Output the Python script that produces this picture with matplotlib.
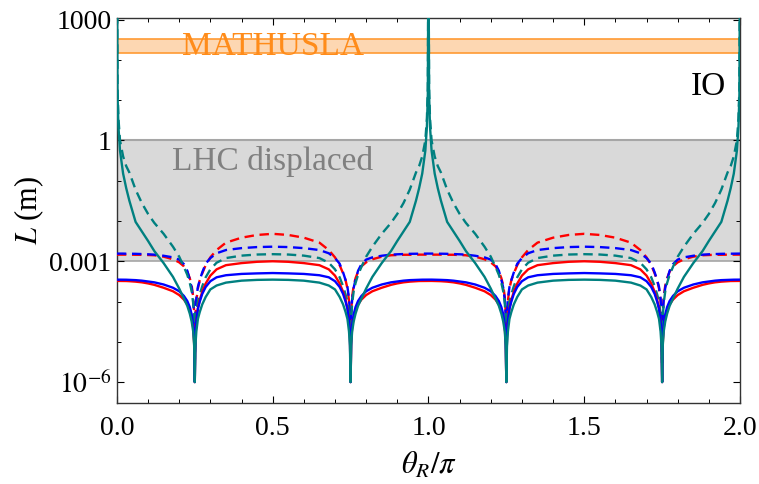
import matplotlib
matplotlib.use("Agg")
import matplotlib.pyplot as plt
import numpy as np
from matplotlib.ticker import MultipleLocator, FixedLocator, NullFormatter

plt.rcParams['font.family'] = ['Liberation Serif', 'DejaVu Serif']
plt.rcParams['mathtext.fontset'] = 'stix'

# theta_R/pi over half a period (curves are symmetric about 0.5 and repeat with period 1)
theta_half = [0, 0.002, 0.005, 0.01, 0.02, 0.03, 0.04, 0.06, 0.08, 0.1,
              0.12, 0.15, 0.18, 0.2, 0.215, 0.226, 0.234, 0.24, 0.245, 0.248,
              0.25, 0.252, 0.255, 0.26, 0.266, 0.274, 0.285, 0.3, 0.32, 0.35,
              0.4, 0.45, 0.5]

# decay length L (m)
red_solid = [3.25e-4, 3.25e-4, 3.25e-4, 3.25e-4, 3.24e-4, 3.23e-4, 3.2e-4, 3.12e-4, 3.0e-4, 2.82e-4,
             2.6e-4, 2.2e-4, 1.8e-4, 1.45e-4, 1.12e-4, 8.5e-5, 6.2e-5, 4.2e-5, 2.2e-5, 9e-6,
             1e-6, 1.4e-5, 3.3e-5, 6.8e-5, 1.1e-4, 1.75e-4, 2.8e-4, 4.4e-4, 6.3e-4, 8.0e-4,
             9.0e-4, 9.7e-4, 1.0e-3]
blue_solid = [3.5e-4, 3.5e-4, 3.5e-4, 3.5e-4, 3.49e-4, 3.48e-4, 3.45e-4, 3.4e-4, 3.3e-4, 3.15e-4,
              3.0e-4, 2.65e-4, 2.2e-4, 1.8e-4, 1.38e-4, 1.03e-4, 7.3e-5, 4.8e-5, 2.6e-5, 1.1e-5,
              1e-6, 1.4e-5, 3.3e-5, 6.6e-5, 1.0e-4, 1.55e-4, 2.3e-4, 3.2e-4, 4.0e-4, 4.5e-4,
              4.85e-4, 5.0e-4, 5.1e-4]
teal_solid = [1e5, 14, 2.2, 0.56, 0.15, 0.065, 0.032, 9.5e-3, 5.5e-3, 3.2e-3,
              1.8e-3, 9e-4, 4.1e-4, 2.1e-4, 1.18e-4, 7.8e-5, 5e-5, 3.2e-5, 1.8e-5, 8e-6,
              1e-6, 8e-6, 1.8e-5, 3.7e-5, 5.5e-5, 8.5e-5, 1.3e-4, 2.0e-4, 2.5e-4, 2.95e-4,
              3.3e-4, 3.45e-4, 3.5e-4]
red_dashed = [1.46e-3, 1.46e-3, 1.46e-3, 1.46e-3, 1.46e-3, 1.46e-3, 1.46e-3, 1.45e-3, 1.45e-3, 1.43e-3,
              1.41e-3, 1.3e-3, 1.12e-3, 9.4e-4, 7.5e-4, 5.5e-4, 3.8e-4, 2.5e-4, 1.3e-4, 5.5e-5,
              3e-6, 4.2e-5, 1.05e-4, 2.1e-4, 3.4e-4, 5.0e-4, 8e-4, 1.25e-3, 1.9e-3, 2.9e-3,
              3.85e-3, 4.5e-3, 4.8e-3]
blue_dashed = [1.55e-3, 1.55e-3, 1.55e-3, 1.55e-3, 1.55e-3, 1.54e-3, 1.54e-3, 1.53e-3, 1.51e-3, 1.49e-3,
               1.46e-3, 1.37e-3, 1.25e-3, 1.1e-3, 8.5e-4, 5.8e-4, 3.5e-4, 2.2e-4, 1.1e-4, 4.5e-5,
               3e-6, 5e-5, 1.2e-4, 2.3e-4, 3.4e-4, 5.3e-4, 8.7e-4, 1.2e-3, 1.58e-3, 1.9e-3,
               2.12e-3, 2.25e-3, 2.3e-3]
teal_dashed = [1e5, 20, 3.5, 1.0, 0.4, 0.23, 0.16, 0.06, 0.028, 0.015,
               9e-3, 4.8e-3, 2.3e-3, 1.3e-3, 7.3e-4, 4.6e-4, 2.9e-4, 1.8e-4, 9e-5, 4e-5,
               3e-6, 2e-5, 5e-5, 1e-4, 1.5e-4, 2.4e-4, 4e-4, 6.3e-4, 9.2e-4, 1.2e-3,
               1.38e-3, 1.47e-3, 1.5e-3]

mathusla_band = [146, 331]
lhc_band = [1e-3, 1.0]


def unfold(x, y):
    # mirror the half period about 0.5, then repeat once more up to 2
    x = np.asarray(x)
    y = np.asarray(y)
    xp = np.concatenate([x, 1 - x[::-1][1:]])
    yp = np.concatenate([y, y[::-1][1:]])
    return np.concatenate([xp, xp[1:] + 1]), np.concatenate([yp, yp[1:]])


fig = plt.figure(figsize=(7.59, 4.84), dpi=100)
ax = fig.add_axes([0.154, 0.167, 0.821, 0.796])

# bands
ax.axhspan(lhc_band[0], lhc_band[1], color='#d9d9d9', lw=0, zorder=0)
ax.axhline(lhc_band[1], color='#a6a6a6', lw=1.5, zorder=1)
ax.axhline(lhc_band[0], color='#a6a6a6', lw=1.2, zorder=1)
ax.axhspan(mathusla_band[0], mathusla_band[1], color='#fdd7b2', lw=0, zorder=0)
ax.axhline(mathusla_band[0], color='#ff9a33', lw=1.2, zorder=1)
ax.axhline(mathusla_band[1], color='#ff9a33', lw=1.2, zorder=1)

red = '#ff0000'
blue = '#0000ff'
teal = '#008080'
dash = (4, 2.4)

curves = [
    (red_dashed, red, '--'),
    (blue_dashed, blue, '--'),
    (teal_dashed, teal, '--'),
    (red_solid, red, '-'),
    (blue_solid, blue, '-'),
    (teal_solid, teal, '-'),
]
for vals, c, ls in curves:
    x, y = unfold(theta_half, vals)
    line, = ax.plot(x, y, color=c, lw=1.7, ls=ls, zorder=3)
    if ls == '--':
        line.set_dashes(dash)

ax.text(0.5, 215, 'MATHUSLA', color='#ff8c1a', fontsize=24, ha='center', va='center')
ax.text(0.5, 0.3, 'LHC displaced', color='#808080', fontsize=24, ha='center', va='center')
ax.text(1.9, 21, 'IO', color='black', fontsize=24, ha='center', va='center')

ax.set_yscale('log')
ax.set_xlim(0, 2)
ax.set_ylim(3e-7, 1100)

ax.set_xticks([0, 0.5, 1.0, 1.5, 2.0])
ax.set_xticklabels(['0.0', '0.5', '1.0', '1.5', '2.0'])
ax.xaxis.set_minor_locator(MultipleLocator(0.1))
ax.set_yticks([1e-6, 1e-3, 1, 1e3])
ax.set_yticklabels([r'$10^{-6}$', '0.001', '1', '1000'])
ax.yaxis.set_minor_locator(FixedLocator([1e-5, 1e-4, 1e-2, 1e-1, 10, 100]))
ax.yaxis.set_minor_formatter(NullFormatter())

ax.tick_params(which='both', direction='in', top=True, right=True, labelsize=20)
ax.tick_params(which='major', length=5, width=0.8)
ax.tick_params(which='minor', length=3, width=0.7)
ax.tick_params(axis='x', pad=9)
ax.tick_params(axis='y', pad=4)
for s in ax.spines.values():
    s.set_linewidth(1.0)
    s.set_color('#333333')

ax.set_xlabel(r'$\theta_R/\pi$', fontsize=22, labelpad=7)
ax.set_ylabel(r'$L$ (m)', fontsize=22, labelpad=2)

fig.savefig('out.png', dpi=100)
